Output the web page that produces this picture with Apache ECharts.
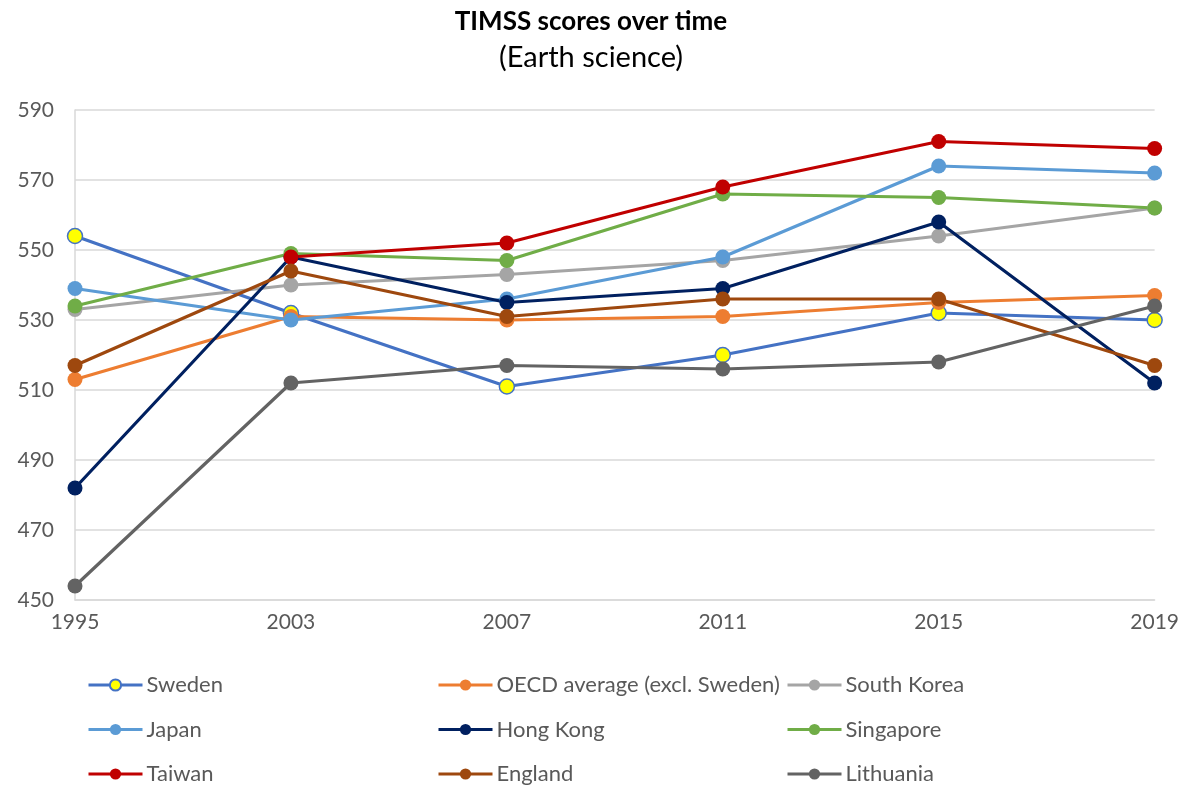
<!DOCTYPE html>
<html>
<head>
<meta charset="utf-8">
<script src="https://cdn.jsdelivr.net/npm/echarts@6/dist/echarts.min.js"></script>
<style>
  html, body { margin: 0; padding: 0; background: #fff; }
  #chart { width: 1182px; height: 787px; }
</style>
</head>
<body>
<div id="chart"></div>
<script>
// TIMSS Earth science scores
const years = ['1995', '2003', '2007', '2011', '2015', '2019'];

const sweden      = [554, 532, 511, 520, 532, 530];
const oecd        = [513, 531, 530, 531, 535, 537];
const southKorea  = [533, 540, 543, 547, 554, 562];
const japan       = [539, 530, 536, 548, 574, 572];
const hongKong    = [482, 548, 535, 539, 558, 512];
const singapore   = [534, 549, 547, 566, 565, 562];
const taiwan      = [null, 548, 552, 568, 581, 579]; // no 1995 point
const england     = [517, 544, 531, 536, 536, 517];
const lithuania   = [454, 512, 517, 516, 518, 534];

const FONT = 'Lato, "Open Sans", sans-serif';
const TEXT = '#595959';
const GRID = '#D9D9D9';

// name, values, line colour, marker fill
const seriesDefs = [
  ['Sweden', sweden, '#4472C4', '#FFFF00'],
  ['OECD average (excl. Sweden)', oecd, '#ED7D31', '#ED7D31'],
  ['South Korea', southKorea, '#A5A5A5', '#A5A5A5'],
  ['Japan', japan, '#5B9BD5', '#5B9BD5'],
  ['Hong Kong', hongKong, '#002060', '#002060'],
  ['Singapore', singapore, '#70AD47', '#70AD47'],
  ['Taiwan', taiwan, '#C00000', '#C00000'],
  ['England', england, '#9E480E', '#9E480E'],
  ['Lithuania', lithuania, '#636363', '#636363'],
];

function legendCol(left, names) {
  return {
    left: left, top: 674, height: 130, padding: 0,
    orient: 'vertical',
    itemWidth: 54, itemHeight: 14, itemGap: 22.5,
    data: names,
    lineStyle: { width: 3 },
    textStyle: { color: TEXT, fontSize: 22, lineHeight: 22, fontFamily: FONT, padding: [0, 0, 0, -1] },
  };
}

const chart = echarts.init(document.getElementById('chart'), null, { renderer: 'canvas' });

chart.setOption({
  backgroundColor: '#fff',
  animation: false,
  title: {
    text: 'TIMSS scores over time',
    subtext: '(Earth science)',
    left: 'center', top: 4, itemGap: 8,
    textStyle: { color: '#000', fontSize: 26, fontWeight: 'bold', fontFamily: FONT },
    subtextStyle: { color: '#000', fontSize: 29, fontFamily: FONT },
  },
  legend: [
    legendCol(87, ['Sweden', 'Japan', 'Taiwan']),
    legendCol(437, ['OECD average (excl. Sweden)', 'Hong Kong', 'England']),
    legendCol(786, ['South Korea', 'Singapore', 'Lithuania']),
  ],
  grid: { left: 75, right: 27, top: 110, bottom: 187 },
  xAxis: {
    type: 'category',
    data: years,
    boundaryGap: false,
    axisLine: { lineStyle: { color: GRID, width: 1.5 } },
    axisTick: { show: false },
    axisLabel: { color: TEXT, fontSize: 21, fontFamily: FONT, margin: 12 },
  },
  yAxis: {
    type: 'value',
    min: 450, max: 590, interval: 20,
    axisLine: { show: true, lineStyle: { color: GRID, width: 1.5 } },
    axisTick: { show: false },
    axisLabel: { color: TEXT, fontSize: 21, fontFamily: FONT, margin: 21 },
    splitLine: { lineStyle: { color: GRID, width: 1.5 } },
  },
  series: seriesDefs.map(([name, data, color, fill]) => ({
    name: name,
    type: 'line',
    data: data,
    symbol: 'circle',
    symbolSize: 15,
    showSymbol: true,
    lineStyle: { color: color, width: 3.2 },
    itemStyle: { color: fill, borderColor: color, borderWidth: fill === color ? 0 : 1.5 },
  })),
});
</script>
</body>
</html>
